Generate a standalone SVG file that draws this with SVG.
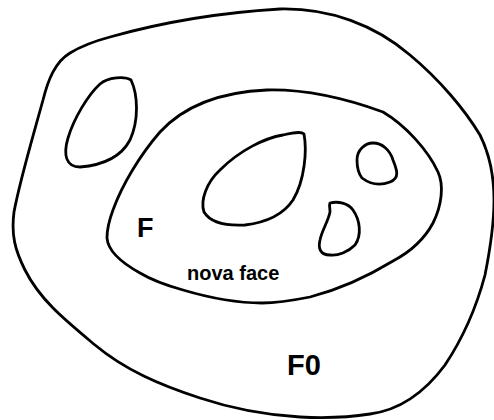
<svg xmlns="http://www.w3.org/2000/svg" width="494" height="420" viewBox="0 0 494 420">
<style>
.ln{fill:none;stroke:#000;stroke-width:2.8;stroke-linejoin:round}
.t{font-family:"Liberation Sans",Arial,sans-serif;font-weight:bold;fill:#000}
</style>
<rect width="494" height="420" fill="#fff"/>
<g id="F0">
<path class="ln" d="M 110,37 C 170,20 230,12 280,9 C 330,8 375,25 410,55 C 440,80 465,110 480,135 C 490,155 494,175 494,200 C 494,225 491,245 485,275 C 477,305 465,335 445,365 C 425,392 400,410 370,414 C 345,418 320,418 300,417 C 265,415 230,408 200,398 C 160,385 125,370 95,345 C 65,320 40,300 25,270 C 15,250 11,235 14,212 C 20,180 32,140 43,100 C 48,80 55,62 70,53 C 83,45 95,41 110,37 Z"/>
<text class="t" x="287" y="375" font-size="29">F0</text>
</g>
<g id="hole-left">
<path class="ln" d="M 131,80 C 138,95 139,120 130,140 C 122,155 105,165 80,167 C 66,167 63,155 68,138 C 74,118 88,95 100,84 C 108,77 125,76 131,80 Z"/>
</g>
<g id="F">
<path class="ln" d="M 113,210 C 122,185 140,155 160,132 C 185,105 220,92 267,90 C 310,89 350,100 383,112 C 405,125 428,150 438,172 C 444,185 442,205 433,223 C 425,238 410,252 393,261 C 370,275 345,288 310,297 C 290,301 275,303 262,303 C 240,303 210,298 183,290 C 165,285 150,279 140,273 C 122,263 108,252 107,238 C 107,228 110,218 113,210 Z"/>
<text class="t" x="137" y="237" font-size="27">F</text>
<text class="t" x="187" y="280" font-size="20">nova face</text>
</g>
<g id="hole-center">
<path class="ln" d="M 304,134 C 307,150 305,180 293,200 C 285,212 270,222 245,225 C 225,226 210,222 204,212 C 200,200 207,182 220,170 C 240,150 265,138 283,135 C 292,133 301,131 304,134 Z"/>
</g>
<g id="hole-circle">
<path class="ln" d="M 357,160 C 357,150 365,143 373,143 C 382,143 390,150 393,160 C 397,170 400,178 390,182 C 380,186 370,184 362,178 C 358,173 357,167 357,160 Z"/>
</g>
<g id="hole-d">
<path class="ln" d="M 330,203 C 338,201 348,203 353,210 C 360,220 362,235 355,245 C 348,252 338,256 330,255 C 320,255 318,248 320,240 C 322,230 328,222 330,212 C 330,208 329,205 330,203 Z"/>
</g>
</svg>
